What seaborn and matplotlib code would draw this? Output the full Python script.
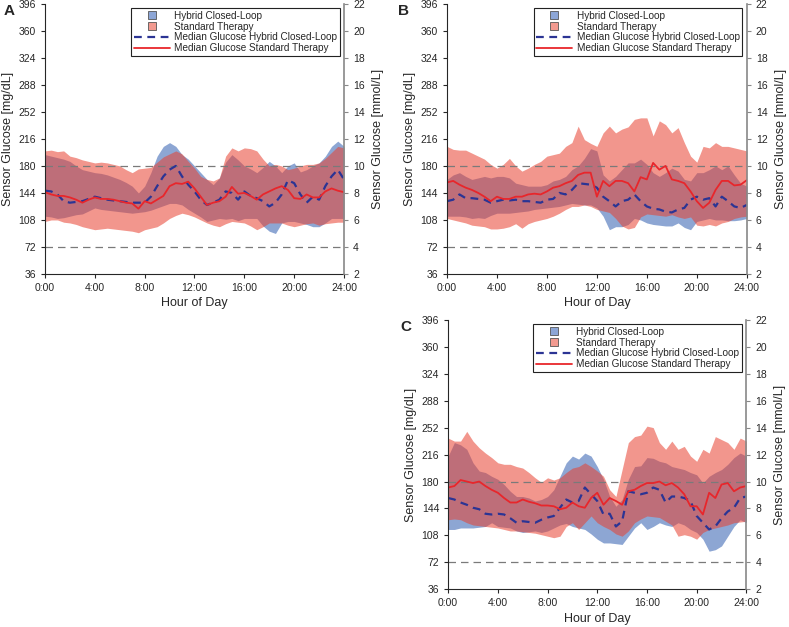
import matplotlib
matplotlib.use("Agg")
import matplotlib.pyplot as plt
import numpy as np
import pandas as pd
import seaborn as sns
from matplotlib.lines import Line2D

# half-hour grid, 0:00 .. 24:00
hours = np.arange(49) * 0.5

# ---- panel A ----
a_hcl_hi = [195, 193, 191, 189, 186, 180, 175, 173, 171, 170, 168, 165, 162, 158, 153, 144, 153,
            171, 193, 206, 211, 206, 195, 189, 180, 171, 162, 155, 164, 185, 195, 188, 180, 176,
            171, 178, 186, 180, 171, 180, 184, 172, 175, 180, 184, 193, 206, 213, 206]
a_hcl_lo = [113, 112, 110, 111, 113, 115, 116, 120, 124, 122, 121, 120, 119, 118, 117, 118, 119,
            121, 124, 127, 130, 130, 128, 122, 117, 112, 106, 108, 110, 109, 110, 107, 110, 110,
            110, 100, 93, 90, 104, 106, 106, 104, 102, 99, 99, 104, 110, 110, 110]
a_st_hi = [200, 201, 199, 200, 193, 191, 188, 186, 184, 185, 184, 182, 180, 175, 171, 176, 177,
           178, 185, 192, 196, 200, 196, 186, 177, 166, 162, 160, 164, 193, 204, 200, 204, 203,
           200, 189, 180, 182, 180, 175, 177, 180, 182, 182, 184, 190, 198, 206, 204]
a_st_lo = [106, 108, 108, 105, 104, 102, 99, 97, 95, 96, 97, 96, 95, 94, 93, 91, 95,
           97, 99, 104, 110, 114, 117, 115, 112, 108, 104, 101, 99, 103, 106, 105, 104, 100,
           95, 99, 104, 104, 104, 101, 99, 101, 103, 104, 101, 103, 104, 105, 105]
a_hcl_med = [147, 146, 142, 133, 131, 132, 133, 136, 139, 137, 135, 134, 133, 132, 131, 131, 131,
             139, 153, 166, 175, 180, 166, 155, 146, 135, 128, 131, 135, 146, 144, 135, 146, 140,
             137, 133, 126, 131, 142, 161, 157, 142, 131, 139, 135, 153, 166, 175, 162]
a_st_med = [145, 142, 140, 140, 138, 135, 131, 135, 138, 136, 136, 135, 133, 131, 130, 123, 133,
            130, 135, 140, 153, 157, 156, 159, 150, 139, 128, 131, 133, 139, 152, 143, 144, 140,
            135, 142, 146, 150, 153, 148, 137, 136, 142, 138, 138, 146, 150, 147, 145]

# ---- panel B ----
b_hcl_hi = [162, 168, 171, 166, 162, 164, 166, 164, 166, 166, 164, 157, 155, 153, 153, 153, 155,
            160, 162, 166, 175, 180, 190, 203, 200, 168, 160, 166, 175, 184, 184, 189, 182, 171,
            166, 171, 177, 173, 162, 160, 171, 171, 175, 180, 175, 180, 168, 157, 153]
b_hcl_lo = [113, 113, 113, 112, 110, 111, 110, 114, 117, 117, 117, 118, 119, 120, 122, 123, 124,
            125, 126, 128, 130, 129, 128, 128, 124, 113, 95, 99, 99, 102, 110, 108, 104, 102,
            101, 100, 100, 104, 98, 95, 106, 108, 110, 108, 108, 107, 107, 108, 110]
b_st_hi = [206, 202, 201, 201, 197, 193, 189, 182, 177, 182, 190, 180, 173, 177, 182, 186, 193,
           195, 197, 206, 211, 233, 215, 210, 206, 224, 233, 224, 229, 232, 242, 244, 244, 220,
           240, 235, 224, 231, 211, 193, 185, 206, 204, 211, 206, 206, 204, 202, 200]
b_st_lo = [110, 108, 106, 104, 101, 100, 99, 96, 96, 97, 99, 103, 97, 103, 106, 108, 110,
           113, 117, 122, 126, 126, 128, 126, 122, 120, 118, 110, 100, 96, 98, 112, 116, 115,
           114, 113, 115, 112, 110, 112, 101, 100, 102, 100, 104, 106, 110, 112, 113]
b_hcl_med = [133, 135, 142, 137, 137, 136, 135, 131, 133, 135, 134, 135, 133, 133, 132, 131, 135,
             136, 144, 142, 148, 157, 156, 155, 151, 139, 133, 126, 133, 135, 142, 133, 126, 123,
             122, 119, 118, 122, 124, 135, 139, 135, 137, 126, 139, 133, 126, 124, 128]
b_st_med = [158, 160, 155, 151, 148, 144, 139, 133, 139, 136, 136, 139, 139, 142, 143, 142, 146,
            151, 153, 157, 160, 168, 171, 171, 139, 160, 153, 160, 160, 157, 146, 165, 162, 184,
            175, 180, 162, 160, 157, 146, 133, 124, 131, 148, 160, 160, 154, 155, 161]

# ---- panel C ----
c_hcl_hi = [214, 232, 229, 223, 205, 194, 192, 187, 183, 176, 167, 160, 160, 158, 154, 156, 160,
            169, 187, 205, 214, 210, 218, 214, 200, 183, 160, 147, 156, 183, 200, 201, 212, 211,
            207, 205, 200, 198, 196, 192, 189, 178, 187, 192, 196, 203, 212, 218, 214]
c_hcl_lo = [116, 116, 118, 118, 118, 119, 120, 125, 120, 119, 118, 114, 112, 113, 114, 112, 114,
            118, 122, 124, 120, 118, 116, 110, 103, 98, 98, 97, 96, 107, 118, 125, 116, 120,
            125, 122, 120, 125, 122, 116, 112, 103, 87, 89, 94, 107, 120, 129, 125]
c_st_hi = [238, 234, 234, 247, 234, 225, 218, 212, 205, 203, 203, 200, 198, 192, 185, 179, 185,
           182, 185, 192, 198, 200, 205, 200, 194, 187, 169, 160, 196, 232, 240, 242, 254, 252,
           232, 223, 234, 223, 227, 214, 207, 223, 218, 240, 236, 232, 223, 238, 234]
c_st_lo = [129, 130, 129, 125, 122, 121, 120, 119, 118, 116, 114, 114, 113, 112, 111, 109, 107,
           105, 107, 120, 125, 116, 125, 134, 125, 120, 116, 110, 107, 114, 125, 130, 134, 133,
           132, 127, 122, 107, 109, 107, 103, 112, 116, 118, 120, 122, 125, 126, 127]
c_hcl_med = [158, 156, 152, 149, 145, 143, 137, 136, 137, 136, 131, 125, 127, 126, 125, 129, 132,
             134, 145, 156, 152, 154, 172, 163, 154, 136, 137, 120, 127, 167, 165, 163, 165, 172,
             169, 152, 160, 160, 158, 154, 134, 125, 116, 120, 131, 140, 145, 158, 160]
c_st_med = [172, 174, 182, 180, 178, 180, 174, 169, 165, 158, 152, 152, 156, 153, 151, 148, 148,
            147, 143, 145, 152, 147, 145, 158, 165, 149, 158, 154, 149, 167, 169, 174, 178, 178,
            180, 175, 178, 172, 163, 147, 147, 136, 165, 158, 176, 178, 167, 172, 174]

BLUE_FILL = "#2f5db0"
RED_FILL = "#e8402f"
BLUE_LINE = "#2b3494"
RED_LINE = "#e8262b"

sns.set_style("ticks")
plt.rcParams["font.family"] = ["Liberation Sans", "DejaVu Sans"]
plt.rcParams["font.size"] = 8


def painel(fig, rect, letra, pos_letra, hcl_lo, hcl_hi, st_lo, st_hi, hcl_med, st_med):
    ax = fig.add_axes(rect)
    ax.fill_between(hours, hcl_lo, hcl_hi, color=BLUE_FILL, alpha=0.55, linewidth=0)
    ax.fill_between(hours, st_lo, st_hi, color=RED_FILL, alpha=0.55, linewidth=0)

    df = pd.DataFrame({"hora": hours, "hcl": hcl_med, "st": st_med})
    sns.lineplot(data=df, x="hora", y="hcl", ax=ax, color=BLUE_LINE, linewidth=1.6,
                 dashes=False, linestyle=(0, (3.5, 2.5)))
    sns.lineplot(data=df, x="hora", y="st", ax=ax, color=RED_LINE, linewidth=1.3)

    for y in (180, 72):
        ax.axhline(y, color="#7a7a7a", linestyle=(0, (6, 4)), linewidth=0.9, zorder=1)

    ax.set_xlim(0, 24)
    ax.set_ylim(36, 396)
    ax.set_xticks(range(0, 25, 4))
    ax.set_xticklabels([f"{h}:00" for h in range(0, 25, 4)])
    ax.set_yticks(range(36, 397, 36))
    ax.set_xlabel("Hour of Day", fontsize=9, labelpad=3)
    ax.set_ylabel("Sensor Glucose [mg/dL]", fontsize=9, labelpad=3)
    ax.tick_params(labelsize=7.5, length=3, width=0.8)
    ax.spines["top"].set_visible(False)
    ax.spines["right"].set_visible(False)

    ax2 = ax.twinx()
    ax2.set_ylim(2, 22)
    ax2.set_yticks(range(2, 23, 2))
    ax2.set_ylabel("Sensor Glucose [mmol/L]", fontsize=9, labelpad=5)
    ax2.tick_params(labelsize=7.5, length=3, width=0.8, color="#888888")
    ax2.spines["right"].set_color("#888888")
    ax2.spines["right"].set_linewidth(1.2)
    for lado in ("top", "left", "bottom"):
        ax2.spines[lado].set_visible(False)

    handles = [
        Line2D([], [], linestyle="none", marker="s", markersize=6,
               markerfacecolor="#8da6d6", markeredgecolor="#555555", markeredgewidth=0.6),
        Line2D([], [], linestyle="none", marker="s", markersize=6,
               markerfacecolor="#f29a90", markeredgecolor="#555555", markeredgewidth=0.6),
        Line2D([], [], color=BLUE_LINE, linewidth=1.6, linestyle=(0, (3.5, 2.5))),
        Line2D([], [], color=RED_LINE, linewidth=1.3),
    ]
    labels = ["Hybrid Closed-Loop", "Standard Therapy",
              "Median Glucose Hybrid Closed-Loop", "Median Glucose Standard Therapy"]
    leg = ax2.legend(handles, labels, loc="upper right", fontsize=7.2, frameon=True,
                     fancybox=False, edgecolor="#222222", borderaxespad=0.45,
                     handlelength=3.6, handletextpad=0.45, labelspacing=0.08,
                     borderpad=0.25, framealpha=1)
    leg.get_frame().set_linewidth(0.8)

    fig.text(pos_letra[0], pos_letra[1], letra,
             fontsize=11, fontweight="bold", ha="left", va="center")
    return ax


fig = plt.figure(figsize=(7.89, 6.27), dpi=100)
painel(fig, [0.057, 0.563, 0.379, 0.431], "A", (0.004, 0.982),
       a_hcl_lo, a_hcl_hi, a_st_lo, a_st_hi, a_hcl_med, a_st_med)
painel(fig, [0.5665, 0.563, 0.380, 0.431], "B", (0.505, 0.982),
       b_hcl_lo, b_hcl_hi, b_st_lo, b_st_hi, b_hcl_med, b_st_med)
painel(fig, [0.568, 0.06, 0.378, 0.43], "C", (0.508, 0.478),
       c_hcl_lo, c_hcl_hi, c_st_lo, c_st_hi, c_hcl_med, c_st_med)

fig.savefig("out.png", dpi=100)
